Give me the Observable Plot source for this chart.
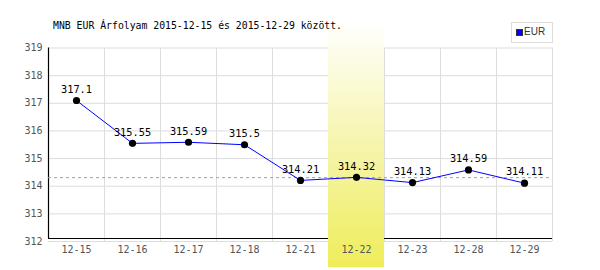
<!DOCTYPE html>
<html>
<head>
<meta charset="utf-8">
<script src="https://cdn.jsdelivr.net/npm/d3@7"></script>
<script src="https://cdn.jsdelivr.net/npm/@observablehq/plot@0.6"></script>
<style>
  html, body { margin: 0; padding: 0; background: #fff; }
  #wrap { position: relative; width: 600px; height: 270px; }
  #title { position: absolute; left: 53px; top: 20px; font: 9.8px "DejaVu Sans Mono", monospace; color: #000; white-space: nowrap; }
  #legend { position: absolute; left: 511px; top: 22px; width: 40px; height: 19px; border: 1px solid #dddddd; background: #fff; font: 10px "Liberation Sans", Arial, sans-serif; color: #333; }
  #legend .sw { position: absolute; left: 4px; top: 6px; width: 5px; height: 5px; background: #0000ff; border: 1px solid #333; }
  #legend .lb { position: absolute; left: 12px; top: 3px; }
</style>
</head>
<body>
<div id="wrap">
  <div id="chart"></div>
  <div id="title">MNB EUR Árfolyam 2015-12-15 és 2015-12-29 között.</div>
  <div id="legend"><span class="sw"></span><span class="lb">EUR</span></div>
</div>
<script>
const dates = ["12-15", "12-16", "12-17", "12-18", "12-21", "12-22", "12-23", "12-28", "12-29"];
const values = [317.1, 315.55, 315.59, 315.5, 314.21, 314.32, 314.13, 314.59, 314.11];
const labels = ["317.1", "315.55", "315.59", "315.5", "314.21", "314.32", "314.13", "314.59", "314.11"];
const yTicks = [312, 313, 314, 315, 316, 317, 318, 319];
const highlight = ["12-22"];
const refLine = [314.31];

const data = dates.map((d, i) => ({date: d, value: values[i], label: labels[i]}));

const plot = Plot.plot({
  width: 600,
  height: 270,
  marginLeft: 48,
  marginRight: 48,
  marginTop: 47.5,
  marginBottom: 29,
  style: {fontFamily: "DejaVu Sans Mono", fontSize: "10px", background: "#fff"},
  x: {type: "band", domain: dates, padding: 0},
  y: {domain: [312, 319]},
  marks: [
    Plot.ruleY(yTicks, {stroke: "#dddddd", strokeWidth: 1}),
    Plot.ruleX(dates, {dx: 28, stroke: "#dddddd", strokeWidth: 1}),
    Plot.ruleX([dates[0]], {dx: -28, stroke: "#000", strokeWidth: 1.2, insetBottom: 3}),
    Plot.ruleY([312], {dy: -3, stroke: "#000", strokeWidth: 1.2}),
    Plot.cell(highlight, {x: d => d, fill: "url(#hlgrad)", insetTop: -27, insetBottom: -26}),
    Plot.ruleY(refLine, {stroke: "#9999dd", strokeDasharray: "3,3", strokeWidth: 1}),
    Plot.axisX({tickSize: 0, tickPadding: 4, fill: "#555", fontSize: 10, label: null}),
    Plot.axisY(yTicks, {tickSize: 0, tickPadding: 6, fill: "#555", fontSize: 10, label: null}),
    Plot.line(data, {x: "date", y: "value", stroke: "#0000ff", strokeWidth: 1}),
    Plot.dot(data, {x: "date", y: "value", r: 3.6, fill: "#000", stroke: "none"}),
    Plot.text(data, {x: "date", y: "value", text: "label", dy: -11, fill: "#000", fontSize: 10.3, fontFamily: "DejaVu Sans Mono"})
  ]
});

const svgns = "http://www.w3.org/2000/svg";
const defs = document.createElementNS(svgns, "defs");
const grad = document.createElementNS(svgns, "linearGradient");
grad.setAttribute("id", "hlgrad");
grad.setAttribute("x1", "0"); grad.setAttribute("y1", "0");
grad.setAttribute("x2", "0"); grad.setAttribute("y2", "1");
[["0", "#ffffff"], ["0.5", "#f6f5ad"], ["1", "#efed5a"]].forEach(([o, c]) => {
  const s = document.createElementNS(svgns, "stop");
  s.setAttribute("offset", o);
  s.setAttribute("stop-color", c);
  grad.appendChild(s);
});
defs.appendChild(grad);
plot.insertBefore(defs, plot.firstChild);
plot.style.overflow = "visible";
document.getElementById("chart").appendChild(plot);
</script>
</body>
</html>
